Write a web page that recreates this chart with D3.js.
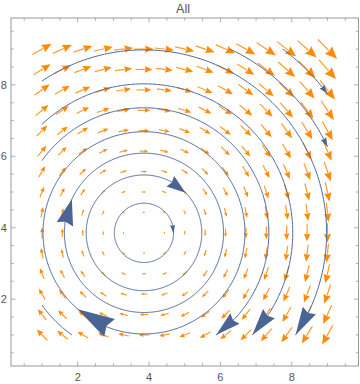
<!DOCTYPE html>
<html><head><meta charset="utf-8">
<script src="https://cdn.jsdelivr.net/npm/d3@7"></script>
<style>body{margin:0;background:#fff}</style>
</head><body>
<svg id="chart" width="360" height="384"></svg>
<script>
// ---------- data ----------
const title = "All";
const xTicks = [2, 4, 6, 8];
const yTicks = [2, 4, 6, 8];
const minorTicks = [0.5, 1, 1.5, 2.5, 3, 3.5, 4.5, 5, 5.5, 6.5, 7, 7.5, 8.5, 9, 9.5];
// sample grid of the vector field
const gridX = [1, 1.571, 2.143, 2.714, 3.286, 3.857, 4.429, 5, 5.571, 6.143, 6.714, 7.286, 7.857, 8.429, 9];
const gridY = [1, 1.571, 2.143, 2.714, 3.286, 3.857, 4.429, 5, 5.571, 6.143, 6.714, 7.286, 7.857, 8.429, 9];
// horizontal component per row, vertical component per column
const uByRow = [-2.857, -2.286, -1.714, -1.143, -0.571, 0, 0.571, 1.143, 1.714, 2.286, 2.857, 3.429, 4, 4.571, 5.143];
const vByCol = [2.857, 2.286, 1.714, 1.143, 0.571, 0, -0.571, -1.143, -1.714, -2.286, -2.857, -3.429, -4, -4.571, -5.143];
// stream lines (circles around a centre, clipped to the field region)
const streamCentre = [3.857, 3.857];
const streamRegion = [1, 9];
const streamRadius = [0.83, 1.62, 2.23, 2.83, 3.5, 3.5, 4.17, 5.12, 5.68, 6.45];
const streamSeed   = [0, 0, 0, 0, 90, 225, 90, 90, 45, 45];
const streamHead   = [-2, 44, 155, 229, "end", null, "end", "end", "end", "end"];
const streamHeadSize = [[9, 5], [19, 13], [26, 17], [37, 21], [25, 14], null, [27, 15], [28, 15], [9, 6], [9, 6]];

// ---------- layout ----------
const W = 360, H = 384;
const frame = {left: 11, right: 358.5, top: 18, bottom: 366};
const domainX = [0.13, 9.87], domainY = [0.13, 9.87];
const orange = "#ff8a05", blue = "#4a6494", axisCol = "#9a9a9a", textCol = "#555";

const svg = d3.select("#chart");
const x = d3.scaleLinear().domain(domainX).range([frame.left, frame.right]);
const y = d3.scaleLinear().domain(domainY).range([frame.bottom, frame.top]);

// frame
svg.append("rect").attr("x", frame.left).attr("y", frame.top)
  .attr("width", frame.right - frame.left).attr("height", frame.bottom - frame.top)
  .attr("fill", "none").attr("stroke", axisCol).attr("stroke-width", 1);

const ax = svg.append("g").attr("stroke", axisCol).attr("stroke-width", 0.8);
function ticks(vals, len) {
  vals.forEach(v => {
    const px = x(v), py = y(v);
    if (px > frame.left && px < frame.right) {
      ax.append("line").attr("x1", px).attr("x2", px).attr("y1", frame.bottom).attr("y2", frame.bottom - len);
      ax.append("line").attr("x1", px).attr("x2", px).attr("y1", frame.top).attr("y2", frame.top + len);
    }
    if (py > frame.top && py < frame.bottom) {
      ax.append("line").attr("y1", py).attr("y2", py).attr("x1", frame.left).attr("x2", frame.left + len);
      ax.append("line").attr("y1", py).attr("y2", py).attr("x1", frame.right).attr("x2", frame.right - len);
    }
  });
}
ticks(xTicks, 4.5);
ticks(minorTicks, 2.7);

const font = "'Liberation Sans', Arial, sans-serif";
svg.append("g").selectAll("text").data(xTicks).join("text")
  .attr("x", d => x(d)).attr("y", 380.5).attr("text-anchor", "middle")
  .attr("font-family", font).attr("font-size", 11).attr("fill", textCol).text(d => d);
svg.append("g").selectAll("text").data(yTicks).join("text")
  .attr("x", 6.8).attr("y", d => y(d) + 4).attr("text-anchor", "end")
  .attr("font-family", font).attr("font-size", 11).attr("fill", textCol).text(d => d);
svg.append("text").attr("x", 183).attr("y", 13.3).attr("text-anchor", "middle")
  .attr("font-family", font).attr("font-size", 12.5).attr("fill", textCol).text(title);

// ---------- vector arrows ----------
const k = 3.72; // pixels per unit of magnitude
const gV = svg.append("g");
gridY.forEach((gy, j) => gridX.forEach((gx, i) => {
  const u = uByRow[j], v = vByCol[i];
  const mag = Math.hypot(u, v);
  if (mag === 0) return;
  const cx = x(gx), cy = y(gy);
  let dx = x(gx + u) - x(gx), dy = y(gy + v) - y(gy);
  const n = Math.hypot(dx, dy); dx /= n; dy /= n;
  const L = k * mag;
  const tx = cx - dx * L / 2, ty = cy - dy * L / 2;
  const hx = cx + dx * L / 2, hy = cy + dy * L / 2;
  const hl = 0.45 * L, hw = 0.19 * L;
  const bx = hx - dx * hl, by = hy - dy * hl;
  gV.append("line").attr("x1", tx).attr("y1", ty).attr("x2", bx + dx * 0.5).attr("y2", by + dy * 0.5)
    .attr("stroke", orange).attr("stroke-width", 1.2).attr("stroke-opacity", 0.85);
  gV.append("path").attr("d", `M${hx},${hy}L${bx - dy * hw},${by + dx * hw}L${bx + dx * hl * 0.1},${by + dy * hl * 0.1}L${bx + dy * hw},${by - dx * hw}Z`)
    .attr("fill", orange);
}));

// ---------- stream lines ----------
const [ccx, ccy] = streamCentre;
const rad = a => a * Math.PI / 180;
const gS = svg.append("g");
function pt(r, a) { return [ccx + r * Math.cos(rad(a)), ccy + r * Math.sin(rad(a))]; }
function inside(r, a) {
  const [px, py] = pt(r, a);
  return px >= streamRegion[0] - 1e-9 && px <= streamRegion[1] + 1e-9 && py >= streamRegion[0] - 1e-9 && py <= streamRegion[1] + 1e-9;
}
function refine(r, aIn, aOut) {
  for (let t = 0; t < 40; t++) { const m = (aIn + aOut) / 2; if (inside(r, m)) aIn = m; else aOut = m; }
  return aIn;
}
function drawHead(r, aTip, size) {
  const [L, Wd] = size;
  const rpx = x(ccx + r) - x(ccx);
  const aBase = aTip + (L / rpx) * 180 / Math.PI;
  const [tx0, ty0] = pt(r, aTip), [bx0, by0] = pt(r, aBase);
  const tx = x(tx0), ty = y(ty0);
  let dx = tx - x(bx0), dy = ty - y(by0);
  const n = Math.hypot(dx, dy); dx /= n; dy /= n;
  const bx = tx - dx * L, by = ty - dy * L, hw = Wd / 2;
  gS.append("path").attr("d", `M${tx},${ty}L${bx - dy * hw},${by + dx * hw}L${bx + dx * L * 0.1},${by + dy * L * 0.1}L${bx + dy * hw},${by - dx * hw}Z`)
    .attr("fill", blue);
}
const line = d3.line().x(d => x(d[0])).y(d => y(d[1]));
streamRadius.forEach((r, s) => {
  const seed = streamSeed[s], step = 0.25;
  let aStart = seed, aEnd = seed, closed = false;
  while (inside(r, aStart + step) && aStart - seed < 360) aStart += step;
  if (aStart - seed >= 360) { closed = true; aStart = seed + 360; aEnd = seed; }
  else {
    aStart = refine(r, aStart, aStart + step);
    while (inside(r, aEnd - step)) aEnd -= step;
    aEnd = refine(r, aEnd, aEnd - step);
  }
  const pts = [];
  const nSteps = Math.ceil((aStart - aEnd) / 0.5);
  for (let t = 0; t <= nSteps; t++) pts.push(pt(r, aStart - (aStart - aEnd) * t / nSteps));
  gS.append("path").attr("d", line(pts) + (closed ? "Z" : "")).attr("fill", "none")
    .attr("stroke", blue).attr("stroke-width", 1);
  const h = streamHead[s];
  if (h === "end") drawHead(r, aEnd, streamHeadSize[s]);
  else if (h !== null) drawHead(r, h, streamHeadSize[s]);
});
</script>
</body></html>
